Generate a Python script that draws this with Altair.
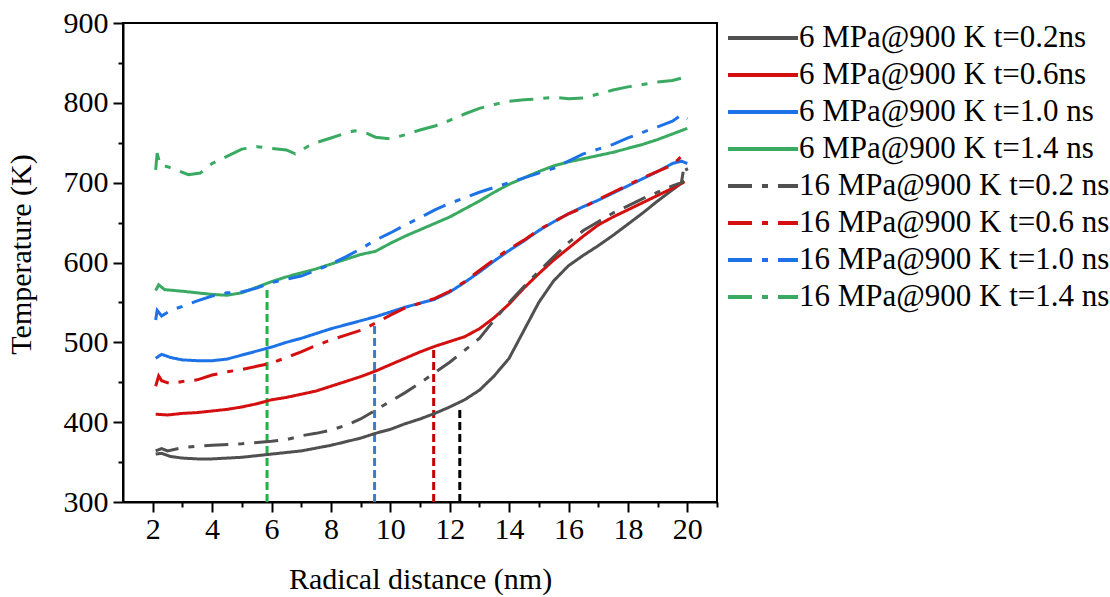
import altair as alt
import pandas as pd

FONT = "Liberation Serif"

LABELS = [
    "6 MPa@900 K t=0.2ns", "6 MPa@900 K t=0.6ns", "6 MPa@900 K t=1.0 ns", "6 MPa@900 K t=1.4 ns",
    "16 MPa@900 K t=0.2 ns", "16 MPa@900 K t=0.6 ns", "16 MPa@900 K t=1.0 ns", "16 MPa@900 K t=1.4 ns",
]
COLORS = ["#505050", "#d40f0f", "#1c72e6", "#3aaa62",
          "#505050", "#d40f0f", "#1c72e6", "#3aaa62"]
DASHES = [[1, 0]] * 4 + [[24, 10, 6, 10]] * 4

# 6 MPa, t=0.2 ns
X_A = [2.1, 2.3, 2.6, 3, 3.5, 4, 5, 6, 7, 8, 9, 9.5, 10, 10.5, 11, 11.5, 12, 12.5, 13, 13.5,
       14, 14.5, 15, 15.5, 16, 16.5, 17, 17.5, 18, 18.5, 19, 19.5, 19.9]
Y_A = [360, 361, 357, 355, 354, 354, 356, 360, 364, 371, 380, 386, 391, 398, 404, 411, 419, 428, 440, 458,
       480, 515, 550, 577, 596, 609, 621, 634, 648, 662, 677, 691, 702]
# 6 MPa, t=0.6 ns
X_B = [2.1, 2.5, 3, 3.5, 4, 4.5, 5, 5.5, 6, 6.5, 7, 7.5, 8, 8.5, 9, 9.5, 10, 10.5, 11, 11.5, 12,
       12.5, 13, 13.5, 14, 14.5, 15, 15.5, 16, 16.5, 17, 17.5, 18, 18.5, 19, 19.5, 19.9]
Y_B = [410, 409, 411, 412, 414, 416, 419, 423, 428, 431, 435, 439, 445, 451, 457, 464, 472, 480, 488, 495, 501,
       507, 517, 531, 548, 568, 586, 603, 618, 633, 647, 657, 666, 675, 684, 693, 701]
# 6 MPa, t=1.0 ns
X_C = [2.1, 2.3, 2.6, 3, 3.5, 4, 4.5, 5, 5.5, 6, 6.5, 7, 7.5, 8, 8.5, 9, 9.5, 10, 10.5, 11, 11.5, 12,
       12.5, 13, 13.5, 14, 14.5, 15, 15.5, 16, 16.5, 17, 17.5, 18, 18.5, 19, 19.5, 19.8, 20.0]
Y_C = [480, 485, 481, 478, 477, 477, 479, 484, 489, 494, 500, 505, 511, 517, 522, 527, 532, 538, 544, 549, 554, 563,
       575, 588, 602, 615, 627, 640, 651, 661, 670, 678, 687, 696, 705, 714, 724, 727, 724]
# 6 MPa, t=1.4 ns
X_D = [2.1, 2.2, 2.4, 3, 3.5, 4, 4.5, 5, 5.5, 6, 6.5, 7, 7.5, 8, 8.5, 9, 9.5, 10, 10.5, 11, 11.5, 12,
       12.5, 13, 13.5, 14, 14.5, 15, 15.5, 16, 16.5, 17, 17.5, 18, 18.5, 19, 19.5, 20.0]
Y_D = [565, 572, 566, 564, 562, 560, 559, 562, 569, 576, 582, 587, 592, 598, 604, 610, 614, 624, 633, 641, 649, 657,
       667, 677, 688, 698, 706, 714, 721, 726, 730, 734, 738, 743, 748, 754, 761, 768]
# 16 MPa, t=0.2 ns
X_E = [2.1, 2.3, 2.5, 3, 3.5, 4, 5, 6, 6.5, 7, 7.5, 8, 8.5, 9, 9.5, 10, 10.5, 11, 11.5, 12, 12.5,
       13, 13.5, 14, 14.5, 15, 15.5, 16, 16.5, 17, 17.5, 18, 18.5, 19, 19.5, 19.8, 19.9, 20.0]
Y_E = [364, 367, 364, 368, 370, 371, 373, 376, 378, 383, 386, 390, 396, 404, 415, 426, 437, 449, 462, 475, 490,
       505, 528, 550, 570, 589, 607, 625, 640, 651, 662, 671, 680, 688, 696, 700, 722, 715]
# 16 MPa, t=0.6 ns
X_F = [2.1, 2.2, 2.3, 2.6, 3, 3.5, 4, 4.5, 5, 5.5, 6, 6.5, 7, 7.5, 8, 8.5, 9, 9.5, 10, 10.5, 11, 11.5,
       12, 12.5, 13, 13.5, 14, 14.5, 15, 15.5, 16, 16.5, 17, 17.5, 18, 18.5, 19, 19.5, 19.8, 20.0]
Y_F = [445, 458, 452, 448, 451, 453, 459, 463, 466, 470, 474, 481, 488, 496, 503, 509, 515, 524, 534, 543, 549, 555,
       564, 576, 590, 604, 617, 628, 641, 651, 661, 669, 679, 688, 697, 706, 714, 722, 733, 728]
# 16 MPa, t=1.0 ns
X_G = [2.1, 2.15, 2.3, 2.6, 3, 3.5, 4, 4.5, 5, 5.5, 6, 6.5, 7, 7.5, 8, 8.5, 9, 9.5, 10, 10.5, 11, 11.5,
       12, 12.5, 13, 13.5, 14, 14.5, 15, 15.5, 16, 16.5, 17, 17.5, 18, 18.5, 19, 19.5, 19.8, 20.0]
Y_G = [528, 540, 533, 540, 545, 552, 558, 562, 563, 568, 575, 579, 583, 590, 598, 607, 617, 628, 637, 647, 656, 666,
       674, 681, 688, 694, 700, 706, 712, 718, 727, 736, 742, 748, 756, 763, 770, 777, 785, 780]
# 16 MPa, t=1.4 ns
X_H = [2.1, 2.15, 2.25, 2.5, 2.8, 3.2, 3.6, 4, 4.5, 5, 5.5, 6, 6.5, 6.8, 7.2, 7.5, 8, 8.5, 8.8, 9.2, 9.5,
       10, 10.5, 11, 11.5, 12, 12.5, 13, 13.5, 14, 14.5, 15, 15.5, 16, 16.5, 17, 17.5, 18, 18.5, 19, 19.5,
       19.8, 20.0]
Y_H = [716, 737, 722, 720, 716, 710, 712, 724, 733, 742, 745, 743, 741, 736, 745, 750, 756, 762, 765, 762, 757,
       755, 760, 766, 771, 778, 786, 793, 798, 802, 804, 805, 807, 805, 806, 811, 816, 820, 823, 826, 828,
       831, 826]

SERIES_X = [X_A, X_B, X_C, X_D, X_E, X_F, X_G, X_H]
SERIES_Y = [Y_A, Y_B, Y_C, Y_D, Y_E, Y_F, Y_G, Y_H]

# vertical marker lines
MARK_X = [5.85, 9.47, 11.46, 12.34]
MARK_TOP = [570, 524, 491, 419]
MARK_COLORS = ["#1fb34a", "#3d7ec4", "#c40000", "#000000"]

X_MAJOR = list(range(2, 21, 2))
X_MINOR = list(range(3, 22, 2))
Y_MAJOR = list(range(300, 901, 100))
Y_MINOR = list(range(350, 900, 100))

rows = []
for lab, xs, ys in zip(LABELS, SERIES_X, SERIES_Y):
    for i, (xv, yv) in enumerate(zip(xs, ys)):
        rows.append({"series": lab, "x": xv, "y": yv, "i": i})
df = pd.DataFrame(rows)

xscale = alt.Scale(domain=[1, 21], nice=False, zero=False)
yscale = alt.Scale(domain=[300, 900], nice=False, zero=False)

legend = alt.Legend(
    title=None, orient="none", legendX=603, legendY=-7, padding=0,
    symbolType="M-1.75,0H1.75", symbolSize=1600, symbolStrokeWidth=4, symbolOffset=15,
    labelFont=FONT, labelFontSize=31, labelColor="black", labelOffset=14,
    labelLimit=600, rowPadding=0,
)

xaxis = alt.Axis(values=X_MAJOR, title="Radical distance (nm)", tickSize=10,
                 labelPadding=2, titlePadding=20, labelFlush=False)
yaxis = alt.Axis(values=Y_MAJOR, title="Temperature (K)", tickSize=10,
                 labelPadding=5, titlePadding=27, titleY=231, labelFlush=False)

lines = alt.Chart(df).mark_line(strokeWidth=3).encode(
    x=alt.X("x:Q", scale=xscale, axis=xaxis),
    y=alt.Y("y:Q", scale=yscale, axis=yaxis),
    color=alt.Color("series:N", scale=alt.Scale(domain=LABELS, range=COLORS), legend=legend),
    strokeDash=alt.StrokeDash("series:N", scale=alt.Scale(domain=LABELS, range=DASHES), legend=legend),
    order="i:Q",
)

rule_layers = []
for mx, mt, mc in zip(MARK_X, MARK_TOP, MARK_COLORS):
    mdf = pd.DataFrame({"x": [mx], "y0": [300], "top": [mt]})
    rule_layers.append(
        alt.Chart(mdf).mark_rule(color=mc, strokeWidth=3, strokeDash=[8, 4]).encode(
            x=alt.X("x:Q", scale=xscale, axis=xaxis),
            y=alt.Y("y0:Q", scale=yscale, axis=yaxis),
            y2="top:Q",
        )
    )

main = alt.layer(*rule_layers, lines)

minor = alt.Chart(df).mark_point(opacity=0).encode(
    x=alt.X("x:Q", scale=xscale,
            axis=alt.Axis(values=X_MINOR, labels=False, tickSize=5, domain=False,
                          title=None, orient="bottom")),
    y=alt.Y("y:Q", scale=yscale,
            axis=alt.Axis(values=Y_MINOR, labels=False, tickSize=5, domain=False,
                          title=None, orient="left")),
)

chart = alt.layer(main, minor).resolve_axis(
    x="independent", y="independent"
).properties(
    width=594, height=479,
    background="white",
    autosize=alt.AutoSizeParams(type="none"),
    padding={"left": 123, "top": 23, "right": 393, "bottom": 95},
).configure_view(
    stroke="black", strokeWidth=2
).configure_axis(
    grid=False, domainColor="black", domainWidth=2, tickColor="black", tickWidth=2,
    labelFont=FONT, labelFontSize=30, labelColor="black",
    titleFont=FONT, titleFontSize=30, titleFontWeight="normal", titleColor="black",
)

chart.save("out.html", embed_options={"renderer": "svg", "actions": False})
